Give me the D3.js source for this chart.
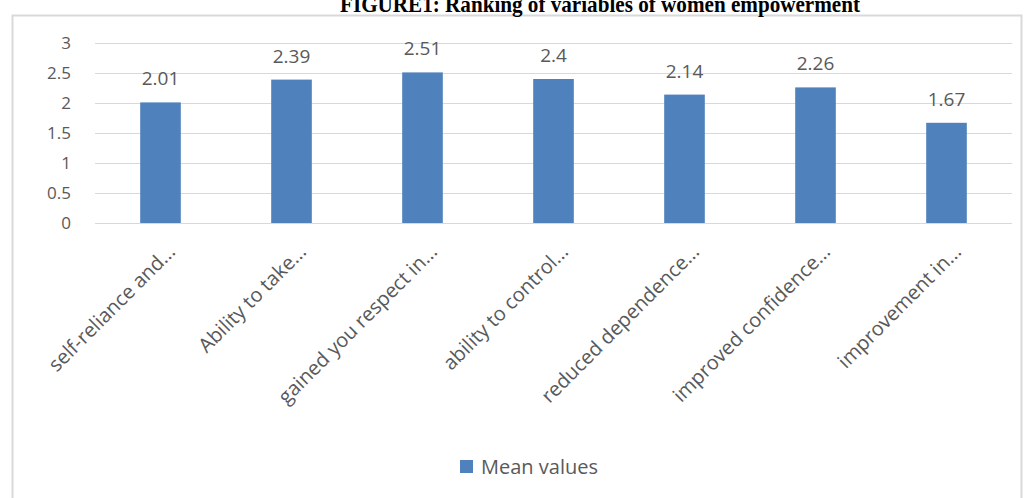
<!DOCTYPE html>
<meta charset="utf-8">
<style>
body { margin: 0; background: #fff; }
svg { display: block; }
.title { font-family: "Liberation Serif", "Times New Roman", serif; font-weight: bold; font-size: 24px; fill: #000; }
.axis text, .val, .legend text { font-family: "Open Sans", sans-serif; fill: #595959; }
.axis path, .axis line { display: none; }
.grid line { stroke: #d9d9d9; stroke-width: 1; }
</style>
<svg width="1027" height="498"></svg>
<script src="https://cdn.jsdelivr.net/npm/d3@7"></script>
<script>
// data
var categories = ["self-reliance and...", "Ability to take...", "gained you respect in...",
  "ability to control...", "reduced dependence...", "improved confidence...", "improvement in..."];
var meanValues = [2.01, 2.39, 2.51, 2.4, 2.14, 2.26, 1.67];
var yTicks = [0, 0.5, 1, 1.5, 2, 2.5, 3];
var seriesName = "Mean values";

var svg = d3.select("svg");

// outer chart frame (runs off the bottom of the picture)
svg.append("rect")
    .attr("x", 12.5).attr("y", 15.5)
    .attr("width", 1009).attr("height", 500)
    .attr("fill", "none").attr("stroke", "#d9d9d9").attr("stroke-width", 2);

svg.append("text")
    .attr("class", "title")
    .attr("x", 600).attr("y", 12)
    .attr("text-anchor", "middle")
    .attr("textLength", 520).attr("lengthAdjust", "spacingAndGlyphs")
    .text("FIGURE1: Ranking of variables of women empowerment");

var x = d3.scaleBand()
    .domain(categories)
    .range([95, 1012])
    .paddingInner(0.69).paddingOuter(0.345);

var y = d3.scaleLinear()
    .domain([0, 3])
    .range([223, 43]);

// gridlines
svg.append("g").attr("class", "grid")
  .selectAll("line")
  .data(yTicks)
  .enter().append("line")
    .attr("x1", 95).attr("x2", 1012)
    .attr("y1", function(d) { return Math.round(y(d)) + 0.5; })
    .attr("y2", function(d) { return Math.round(y(d)) + 0.5; });

svg.append("g")
    .attr("class", "axis")
    .attr("transform", "translate(78,0)")
    .call(d3.axisLeft(y).tickValues(yTicks).tickSize(0).tickFormat(d3.format("")))
    .selectAll("text")
    .style("font-size", "17px")
    .attr("x", -7);

svg.append("g").selectAll("rect")
    .data(meanValues)
  .enter().append("rect")
    .attr("x", function(d, i) { return x(categories[i]); })
    .attr("width", x.bandwidth())
    .attr("y", function(d) { return y(d); })
    .attr("height", function(d) { return y(0) - y(d); })
    .attr("fill", "#4f81bd");

svg.append("g").selectAll("text")
    .data(meanValues)
  .enter().append("text")
    .attr("class", "val")
    .style("font-size", "19px")
    .attr("text-anchor", "middle")
    .attr("x", function(d, i) { return x(categories[i]) + x.bandwidth() / 2; })
    .attr("y", function(d) { return y(d) - 17; })
    .text(function(d) { return d; });

// rotated category labels
svg.append("g").attr("class", "axis").selectAll("text")
    .data(categories)
  .enter().append("text")
    .style("font-size", "20px")
    .attr("text-anchor", "end")
    .attr("transform", function(d) {
      return "translate(" + (x(d) + x.bandwidth() / 2 + 16) + ",253) rotate(-45)";
    })
    .text(function(d) { return d; });

var legend = svg.append("g").attr("class", "legend");
legend.append("rect")
    .attr("x", 460).attr("y", 460).attr("width", 13).attr("height", 13)
    .attr("fill", "#4f81bd");
legend.append("text")
    .attr("x", 481).attr("y", 474)
    .style("font-size", "20px")
    .text(seriesName);
</script>
